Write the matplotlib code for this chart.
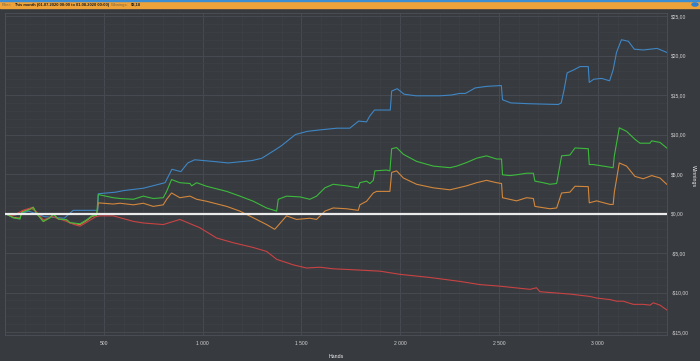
import matplotlib
matplotlib.use("Agg")
import matplotlib.pyplot as plt
from matplotlib.ticker import MultipleLocator, FuncFormatter
from matplotlib.patches import Rectangle

# Session graph: cumulative winnings ($) vs hands played
blue_hands = [0, 50, 120, 200, 300, 345, 470, 472, 560, 600, 700, 810, 845, 890, 925, 960,
              1050, 1130, 1250, 1300, 1370, 1400, 1440, 1470, 1530, 1600, 1680, 1745, 1790,
              1830, 1845, 1870, 1950, 1957, 1985, 2020, 2080, 2200, 2260, 2300, 2330, 2380,
              2440, 2512, 2518, 2560, 2650, 2800, 2815, 2830, 2845, 2880, 2910, 2952, 2957,
              2980, 3020, 3060, 3078, 3095, 3120, 3155, 3185, 3230, 3300, 3349]
blue_vals = [0, -0.2, 0.3, -0.4, -0.6, 0.4, 0.4, 2.5, 2.7, 2.9, 3.2, 3.9, 5.6, 5.3, 6.4, 6.8,
             6.6, 6.4, 6.7, 7.0, 8.1, 8.6, 9.4, 10.0, 10.4, 10.6, 10.8, 10.8, 11.7,
             11.6, 12.3, 13.1, 13.1, 15.5, 15.8, 15.1, 14.9, 14.9, 15.0, 15.2, 15.2, 15.9,
             16.1, 16.2, 14.4, 14.0, 13.9, 13.8, 14.0, 15.7, 17.8, 18.2, 18.6, 18.6, 16.6,
             17.0, 17.1, 16.8, 18.2, 20.4, 22.0, 21.8, 20.8, 20.7, 20.9, 20.4]

green_hands = [0, 8, 42, 76, 84, 127, 143, 160, 194, 228, 245, 270, 312, 329, 380, 413, 439,
               464, 472, 548, 582, 650, 700, 750, 801, 818, 843, 885, 936, 945, 970, 1020,
               1122, 1189, 1257, 1324, 1375, 1383, 1425, 1493, 1543, 1577, 1619, 1661, 1729,
               1788, 1796, 1830, 1847, 1864, 1872, 1931, 1948, 1957, 1982, 2016, 2083, 2168,
               2252, 2286, 2336, 2387, 2437, 2488, 2513, 2518, 2555, 2589, 2640, 2674, 2682,
               2724, 2758, 2792, 2817, 2859, 2885, 2952, 2957, 2977, 3028, 3078, 3084, 3109,
               3146, 3188, 3214, 3264, 3273, 3315, 3349]
green_vals = [0, -0.1, -0.55, -0.7, 0.1, 0.5, 0.75, 0.0, -1.0, -0.55, -0.1, -0.7, -0.8, -1.15,
              -1.3, -0.8, -0.3, -0.2, 2.4, 2.0, 1.9, 1.8, 2.2, 1.9, 2.0, 2.8, 4.3, 3.9, 3.8,
              3.5, 3.9, 3.45, 2.8, 2.2, 1.55, 0.7, 0.3, 1.8, 2.2, 2.1, 1.8, 2.2, 3.25, 3.7,
              3.5, 3.25, 3.9, 4.1, 3.8, 4.2, 5.4, 5.5, 5.4, 8.2, 8.35, 7.5, 6.6, 6.0, 5.8, 6.0,
              6.45, 7.0, 7.3, 6.9, 6.9, 4.9, 4.8, 4.9, 5.1, 5.1, 4.1, 3.9, 3.7, 3.8, 7.3, 7.4,
              8.3, 8.2, 6.2, 6.2, 6.0, 5.8, 7.3, 10.85, 10.4, 9.4, 8.9, 8.9, 9.2, 9.0, 8.3]

orange_hands = [0, 8, 42, 76, 84, 127, 143, 160, 194, 228, 245, 270, 312, 329, 380, 413, 439,
                464, 472, 548, 582, 650, 700, 750, 801, 818, 843, 885, 936, 970, 1020, 1122,
                1189, 1257, 1324, 1365, 1383, 1425, 1475, 1543, 1577, 1619, 1661, 1729,
                1788, 1796, 1830, 1864, 1881, 1948, 1957, 1982, 2016, 2083, 2168, 2252, 2336,
                2387, 2437, 2488, 2513, 2518, 2589, 2640, 2674, 2682, 2758, 2792, 2817, 2859,
                2885, 2952, 2957, 2994, 3062, 3078, 3084, 3109, 3146, 3188, 3230, 3273,
                3315, 3349]
orange_vals = [0, -0.1, -0.5, -0.6, 0.2, 0.6, 0.8, 0.0, -1.0, -0.5, -0.1, -0.7, -0.8, -1.2,
               -1.4, -0.9, -0.4, -0.2, 1.35, 1.2, 1.3, 1.1, 1.3, 0.9, 1.1, 1.8, 2.6, 2.0, 2.2,
               1.8, 1.55, 0.9, 0.3, -0.55, -1.4, -2.0, -1.5, -0.3, -0.75, -0.6, -0.75, 0.3,
               0.7, 0.6, 0.4, 1.1, 1.55, 2.6, 2.8, 2.8, 5.2, 5.4, 4.5, 3.7, 3.25, 3.0, 3.5,
               3.9, 4.2, 3.9, 3.8, 2.0, 1.6, 2.0, 1.9, 0.9, 0.6, 0.7, 2.6, 2.7, 3.45, 3.4,
               1.35, 1.6, 1.15, 1.15, 2.7, 6.4, 6.0, 4.7, 4.4, 4.8, 4.5, 3.7]

red_hands = [0, 40, 90, 130, 160, 195, 240, 300, 350, 380, 420, 460, 480, 548, 650, 700,
             801, 885, 986, 1071, 1155, 1256, 1324, 1375, 1459, 1526, 1594, 1661, 1746,
             1898, 1999, 2151, 2303, 2404, 2505, 2657, 2690, 2707, 2758, 2860, 2960, 2994,
             3062, 3096, 3129, 3180, 3230, 3265, 3281, 3315, 3349]
red_vals = [0, -0.3, 0.4, 0.7, 0.2, -0.8, -0.4, -0.9, -1.4, -1.6, -1.0, -0.4, -0.3, -0.3,
            -1.0, -1.2, -1.4, -0.75, -1.8, -3.1, -3.7, -4.3, -4.8, -5.8, -6.5, -6.9, -6.8,
            -7.0, -7.1, -7.3, -7.7, -8.1, -8.6, -9.0, -9.2, -9.6, -9.4, -9.9, -10.0, -10.2,
            -10.5, -10.7, -10.9, -11.1, -11.1, -11.5, -11.5, -11.6, -11.3, -11.6, -12.2]

header_parts = [("Filter:", "normal", "#7a6540"),
                ("This month (01.07.2020 00:00 to 01.08.2020 00:00)", "bold", "#1a1a1a"),
                ("Winnings:", "normal", "#7a6540"),
                ("$8,18", "bold", "#1a1a1a")]

bg = "#373a3f"
txt = "#d4d4d4"

plt.rcParams["font.family"] = ["Liberation Sans", "DejaVu Sans"]

fig = plt.figure(figsize=(7.0, 3.61), dpi=100, facecolor=bg)
ax = fig.add_axes([5 / 700, 1 - 335 / 361, 662.3 / 700, 322.3 / 361], facecolor=bg)

# header / filter bar
fig.patches.append(Rectangle((0, 1 - 8 / 361), 1, 8 / 361, transform=fig.transFigure,
                             color="#eea33a", zorder=0))
fig.patches.append(Rectangle((0, 1 - 1.2 / 361), 1, 1.2 / 361, transform=fig.transFigure,
                             color="#3b8ed4", zorder=1))
fig.patches.append(plt.Circle((695 / 700, 1 - 4.5 / 361), 3 / 700, transform=fig.transFigure,
                              color="#2f7fd0", zorder=2))

renderer = fig.canvas.get_renderer()
xpos = 2
for s, w, c in header_parts:
    t = fig.text(xpos / 700, 1 - 4.6 / 361, s, fontsize=2.9, color=c, weight=w, va="center")
    xpos += t.get_window_extent(renderer).width + 2

# lines
ax.plot(blue_hands, blue_vals, color="#3f86c4", lw=0.8, zorder=3)
ax.plot(orange_hands, orange_vals, color="#d2873c", lw=0.8, zorder=3)
ax.plot(green_hands, green_vals, color="#3cba3c", lw=0.8, zorder=4)
ax.plot(red_hands, red_vals, color="#c94343", lw=0.8, zorder=3)
ax.axhline(0, color="#ebebeb", lw=1.6, zorder=5)

ax.set_xlim(0, 3352)
ax.set_ylim(-15.38, 25.42)

ax.xaxis.set_major_locator(MultipleLocator(500))
ax.xaxis.set_minor_locator(MultipleLocator(100))
ax.yaxis.set_major_locator(MultipleLocator(5))
ax.yaxis.set_minor_locator(MultipleLocator(1))
ax.grid(which="major", color="#474b51", lw=0.7)
ax.grid(which="minor", color="#3d4146", lw=0.5)
ax.set_axisbelow(True)

ax.yaxis.tick_right()


def money(v, pos):
    s = f"${abs(v):.2f}".replace(".", ",")
    return "-" + s if v < 0 else s


ax.yaxis.set_major_formatter(FuncFormatter(money))
ax.xaxis.set_major_formatter(FuncFormatter(lambda v, p: f"{int(v):,}".replace(",", " ") if v > 0 else ""))
ax.tick_params(axis="both", which="both", length=0, labelsize=3.6, colors=txt)
ax.tick_params(axis="y", pad=3)
ax.tick_params(axis="x", pad=4)

ax.set_xlabel("Hands", fontsize=3.8, color="#f0f0f0", labelpad=6)
fig.text(693 / 700, 1 - 176 / 361, "Winnings", fontsize=3.8, color="#f0f0f0",
         rotation=270, ha="center", va="center")

for sp in ax.spines.values():
    sp.set_color("#4d5157")
    sp.set_linewidth(0.6)

fig.savefig("out.png", dpi=100, facecolor=bg)
